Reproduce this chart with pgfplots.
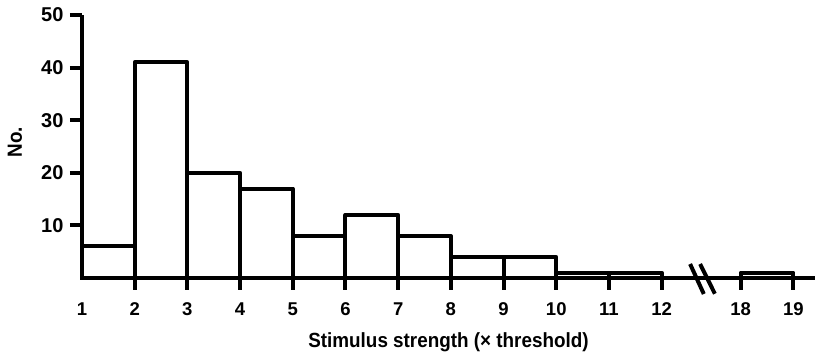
\documentclass[border=0pt]{standalone}
\usepackage{fontspec}
\setmainfont{Liberation Sans}
\newfontfamily\lblfont{Liberation Sans}[FakeStretch=0.92]
\usepackage{pgfplots}
\pgfplotsset{compat=1.18}
\begin{document}
\begin{tikzpicture}
\begin{axis}[
  scale only axis, width=733pt, height=263pt,
  xmin=1, xmax=14.91, ymin=0, ymax=50,
  axis x line=bottom, axis y line=left,
  axis line style={line width=4pt, -},
  xtick={1,2,3,4,5,6,7,8,9,10,11,12,13.5,14.5},
  xticklabels={1,2,3,4,5,6,7,8,9,10,11,12,18,19},
  ytick={10,20,30,40,50},
  tick align=outside, major tick length=12pt,
  every tick/.append style={black, line width=4pt},
  /pgf/number format/assume math mode=true,
  x tick label style={font=\bfseries\fontsize{18.5}{20}\selectfont, yshift=-9pt},
  y tick label style={font=\bfseries\fontsize{20}{22}\selectfont, xshift=-3pt},
  xlabel={Stimulus strength (\texttimes\ threshold)},
  ylabel={No.},
  label style={font=\lblfont\bfseries\fontsize{20.5}{24}\selectfont},
  x label style={at={(axis description cs:0.5,-0.266)}, anchor=base},
  y label style={at={(axis description cs:-0.0914,0.517)}, anchor=center},
  clip=false,
]
\addplot[ybar interval, fill=white, draw=black, line width=4pt, line join=round]
  coordinates {(1,6)(2,41)(3,20)(4,17)(5,8)(6,12)(7,8)(8,4)(9,4)(10,1)(11,1)(12,1)};
\addplot[ybar interval, fill=white, draw=black, line width=4pt, line join=round]
  coordinates {(13.5,1)(14.5,1)};
\pgfplotsinvokeforeach{2,3,4,5,6,7,8,9,10,11,12,13.5,14.5}{
  \draw[line width=4pt] (axis cs:#1,0) -- ([yshift=-12pt]axis cs:#1,0);
}
\pgfplotsinvokeforeach{10,20,30,40,50}{
  \draw[line width=4pt] (axis cs:1,#1) -- ([xshift=-12pt]axis cs:1,#1);
}
\draw[line width=4pt] (axis cs:12.54,2.66) -- (axis cs:12.80,-3.04);
\draw[line width=4pt] (axis cs:12.73,2.66) -- (axis cs:13.01,-3.0);
\coordinate (o) at (axis cs:1,0);
\end{axis}
\fill[white] ([shift={(-2.5pt,-2.2pt)}]o) rectangle ([shift={(2.5pt,-14pt)}]o);
\pgfresetboundingbox
\useasboundingbox (-82pt,-75pt) rectangle (733pt,278pt);
\end{tikzpicture}
\end{document}
